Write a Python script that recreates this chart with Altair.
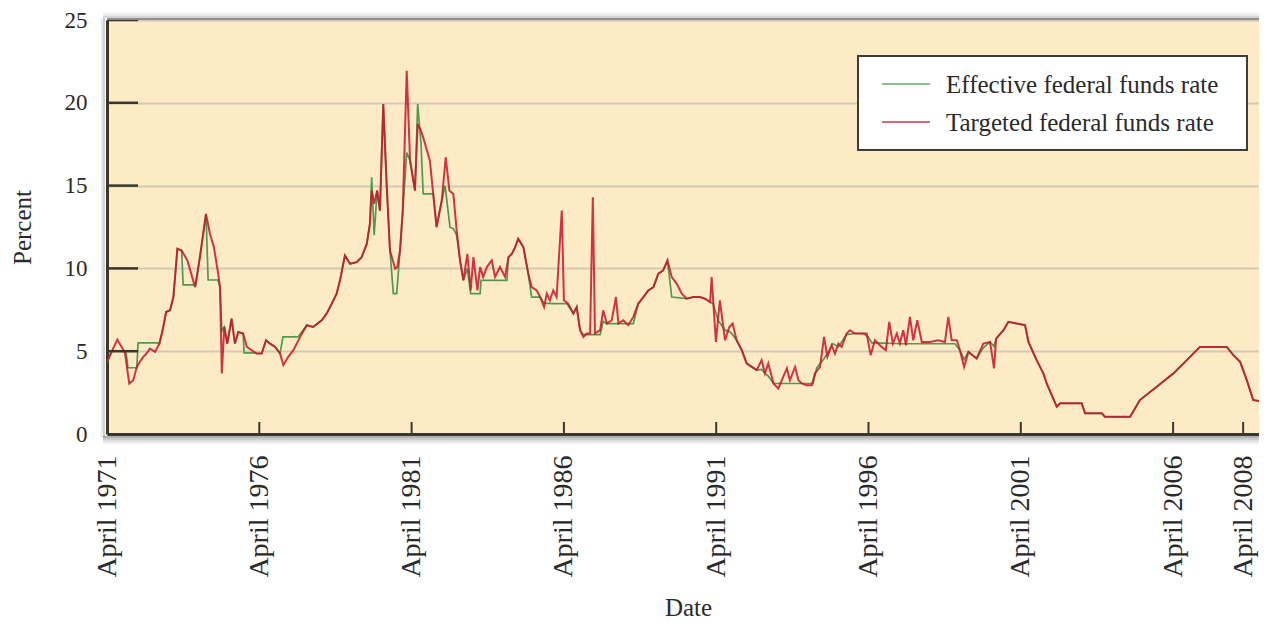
import altair as alt
import pandas as pd

# ---------------- data ----------------
tgt_dates = [1971.25, 1971.40, 1971.59, 1971.73, 1971.84, 1971.98, 1972.11, 1972.23, 1972.33, 1972.44,
             1972.55, 1972.66, 1972.83, 1972.97, 1973.05, 1973.12, 1973.19, 1973.32, 1973.43, 1973.56,
             1973.70, 1973.89, 1974.14, 1974.30, 1974.50, 1974.63, 1974.76, 1974.90, 1974.96, 1975.02,
             1975.10, 1975.20, 1975.34, 1975.45, 1975.56, 1975.72, 1975.84, 1976.00, 1976.16, 1976.33,
             1976.47, 1976.60, 1976.77, 1976.93, 1977.04, 1977.20, 1977.37, 1977.56, 1977.81, 1978.02,
             1978.30, 1978.46, 1978.63, 1978.79, 1978.90, 1979.06, 1979.23, 1979.45, 1979.61, 1979.78,
             1979.88, 1979.94, 1980.02, 1980.12, 1980.21, 1980.32, 1980.43, 1980.54, 1980.71, 1980.78,
             1980.87, 1980.96, 1981.09, 1981.20, 1981.36, 1981.45, 1981.56, 1981.63, 1981.85, 1982.07,
             1982.24, 1982.37, 1982.49, 1982.62, 1982.73, 1982.84, 1982.95, 1983.08, 1983.19, 1983.28,
             1983.41, 1983.50, 1983.60, 1983.72, 1983.88, 1983.99, 1984.15, 1984.32, 1984.43, 1984.54,
             1984.65, 1984.75, 1984.92, 1985.08, 1985.19, 1985.36, 1985.47, 1985.60, 1985.69, 1985.79,
             1985.90, 1986.01, 1986.18, 1986.25, 1986.39, 1986.56, 1986.67, 1986.78, 1986.89, 1987.00,
             1987.11, 1987.20, 1987.27, 1987.44, 1987.54, 1987.66, 1987.82, 1987.96, 1988.04, 1988.20,
             1988.36, 1988.53, 1988.69, 1988.86, 1989.02, 1989.19, 1989.35, 1989.51, 1989.65, 1989.79,
             1989.95, 1990.12, 1990.28, 1990.50, 1990.72, 1990.88, 1991.05, 1991.10, 1991.24, 1991.37,
             1991.54, 1991.68, 1991.79, 1991.92, 1992.09, 1992.25, 1992.42, 1992.58, 1992.74, 1992.85,
             1992.96, 1993.13, 1993.29, 1993.45, 1993.57, 1993.67, 1993.84, 1993.95, 1994.06, 1994.22,
             1994.39, 1994.49, 1994.66, 1994.79, 1994.90, 1995.04, 1995.15, 1995.26, 1995.37, 1995.53,
             1995.64, 1995.81, 1996.19, 1996.32, 1996.46, 1996.68, 1996.82, 1996.93, 1997.05, 1997.18,
             1997.28, 1997.39, 1997.48, 1997.61, 1997.72, 1997.85, 1998.00, 1998.27, 1998.54, 1998.76,
             1998.87, 1998.98, 1999.15, 1999.25, 1999.39, 1999.53, 1999.80, 2000.02, 2000.24, 2000.37,
             2000.44, 2000.68, 2000.84, 2001.12, 2001.39, 2001.50, 2001.77, 2001.99, 2002.10, 2002.43,
             2002.54, 2003.25, 2003.36, 2003.91, 2004.01, 2004.84, 2005.16, 2005.71, 2006.26, 2006.70,
             2007.13, 2008.01, 2008.23, 2008.45, 2008.67, 2008.88, 2009.21, 2009.33]
tgt_rates = [4.34, 4.96, 5.70, 5.26, 4.88, 3.05, 3.25, 4.05, 4.36, 4.66,
             4.86, 5.16, 4.96, 5.46, 6.07, 6.67, 7.37, 7.47, 8.27, 11.19,
             11.08, 10.48, 8.87, 10.68, 13.29, 12.09, 11.28, 9.68, 8.87, 3.66,
             6.46, 5.46, 6.97, 5.46, 6.16, 6.07, 5.26, 5.06, 4.86, 4.86,
             5.66, 5.46, 5.26, 4.86, 4.16, 4.66, 5.06, 5.76, 6.57, 6.46,
             6.87, 7.27, 7.87, 8.48, 9.28, 10.78, 10.28, 10.38, 10.68, 11.49,
             12.69, 14.70, 13.90, 14.70, 13.49, 19.92, 15.10, 11.08, 9.98, 10.08,
             11.08, 13.49, 21.93, 16.51, 14.70, 18.72, 18.31, 17.91, 16.51, 12.49,
             14.10, 16.70, 14.70, 14.50, 12.29, 10.48, 9.28, 10.88, 8.67, 10.68,
             8.67, 10.08, 9.48, 10.08, 10.48, 9.48, 10.08, 9.48, 10.68, 10.88,
             11.28, 11.79, 11.28, 9.68, 8.87, 8.67, 8.27, 7.67, 8.48, 8.07,
             8.67, 8.27, 13.49, 8.07, 7.87, 7.27, 7.67, 6.27, 5.86, 6.07,
             6.07, 14.30, 6.07, 6.27, 7.47, 6.67, 6.87, 8.27, 6.67, 6.87,
             6.57, 7.07, 7.87, 8.27, 8.67, 8.87, 9.68, 9.88, 10.48, 9.48,
             9.08, 8.48, 8.17, 8.27, 8.27, 8.17, 7.97, 9.48, 5.56, 8.07,
             5.66, 6.46, 6.67, 5.66, 5.06, 4.26, 4.05, 3.86, 4.46, 3.66,
             4.26, 3.05, 2.75, 3.45, 3.96, 3.25, 4.05, 3.25, 3.05, 2.95,
             2.95, 3.66, 4.05, 5.86, 4.66, 5.36, 4.86, 5.46, 5.26, 6.07,
             6.27, 6.07, 6.07, 4.76, 5.66, 5.26, 5.06, 6.77, 5.46, 6.07,
             5.46, 6.27, 5.36, 7.07, 5.66, 6.87, 5.56, 5.56, 5.66, 5.56,
             7.07, 5.66, 5.66, 5.06, 4.05, 4.96, 4.56, 5.46, 5.56, 3.96,
             5.76, 6.27, 6.77, 6.67, 6.57, 5.56, 4.46, 3.66, 3.05, 1.65,
             1.85, 1.85, 1.25, 1.25, 1.04, 1.04, 2.05, 2.85, 3.66, 4.46,
             5.26, 5.26, 4.76, 4.36, 3.25, 2.05, 1.95, 0.84]

eff_dates = [1971.25, 1971.41, 1971.87, 1971.94, 1972.23, 1972.27, 1972.89, 1972.97, 1973.05, 1973.12,
             1973.19, 1973.32, 1973.43, 1973.56, 1973.70, 1973.75, 1974.17, 1974.30, 1974.50, 1974.57,
             1974.89, 1974.96, 1975.02, 1975.10, 1975.20, 1975.34, 1975.45, 1975.56, 1975.72, 1975.75,
             1976.11, 1976.16, 1976.33, 1976.47, 1976.60, 1976.77, 1976.93, 1977.03, 1977.52, 1977.81,
             1978.02, 1978.30, 1978.46, 1978.63, 1978.79, 1978.90, 1979.06, 1979.23, 1979.45, 1979.61,
             1979.78, 1979.88, 1979.94, 1980.02, 1980.12, 1980.21, 1980.32, 1980.43, 1980.54, 1980.65,
             1980.76, 1980.87, 1980.96, 1981.09, 1981.20, 1981.36, 1981.45, 1981.56, 1981.63, 1981.96,
             1982.07, 1982.24, 1982.35, 1982.51, 1982.62, 1982.73, 1982.84, 1982.95, 1983.08, 1983.19,
             1983.50, 1983.53, 1984.38, 1984.43, 1984.54, 1984.65, 1984.75, 1984.92, 1985.08, 1985.19,
             1985.47, 1985.60, 1985.90, 1986.35, 1986.56, 1986.67, 1986.78, 1986.89, 1987.44, 1987.54,
             1987.66, 1988.53, 1988.69, 1988.86, 1989.02, 1989.19, 1989.35, 1989.51, 1989.65, 1989.79,
             1990.28, 1990.50, 1990.72, 1990.88, 1991.05, 1991.15, 1991.31, 1991.54, 1991.68, 1991.79,
             1991.92, 1992.09, 1992.25, 1992.42, 1992.58, 1992.74, 1992.85, 1992.96, 1993.13, 1994.43,
             1994.55, 1994.77, 1994.90, 1995.08, 1995.26, 1995.53, 1995.81, 1996.08, 1996.24, 1996.36,
             1996.46, 1997.38, 1999.09, 1999.25, 1999.39, 1999.53, 1999.80, 2000.02, 2000.24, 2000.37,
             2000.44, 2000.68, 2000.84, 2001.12, 2001.39, 2001.50, 2001.77, 2001.99, 2002.10, 2002.43,
             2002.54, 2003.25, 2003.36, 2003.91, 2004.01, 2004.84, 2005.16, 2005.71, 2006.26, 2006.70,
             2007.13, 2008.01, 2008.23, 2008.45, 2008.67, 2008.88, 2009.21, 2009.33]
eff_rates = [4.30, 5.00, 5.00, 4.00, 4.00, 5.50, 5.50, 5.46, 6.07, 6.67,
             7.37, 7.47, 8.27, 11.19, 11.08, 9.00, 9.00, 10.68, 13.29, 9.30,
             9.30, 8.87, 6.20, 6.46, 5.46, 6.97, 5.46, 6.16, 6.07, 4.90,
             4.90, 4.86, 4.86, 5.66, 5.46, 5.26, 4.86, 5.86, 5.86, 6.57,
             6.46, 6.87, 7.27, 7.87, 8.48, 9.28, 10.78, 10.28, 10.38, 10.68,
             11.49, 12.69, 15.50, 12.00, 14.70, 13.49, 19.92, 15.10, 11.08, 8.48,
             8.48, 11.08, 13.49, 17.00, 16.51, 14.70, 19.92, 17.50, 14.50, 14.50,
             12.49, 14.10, 15.00, 12.49, 12.40, 12.00, 10.48, 9.28, 10.00, 8.48,
             8.48, 9.28, 9.28, 10.68, 10.88, 11.28, 11.79, 11.28, 9.68, 8.27,
             8.27, 7.90, 7.87, 7.87, 7.27, 7.67, 6.27, 6.00, 6.00, 6.80,
             6.67, 6.67, 7.87, 8.27, 8.67, 8.87, 9.68, 9.88, 10.48, 8.27,
             8.17, 8.27, 8.27, 8.17, 7.97, 7.87, 6.87, 6.27, 6.20, 6.00,
             5.66, 5.06, 4.26, 4.05, 3.86, 3.90, 3.66, 3.50, 3.05, 3.05,
             4.00, 4.50, 4.86, 5.46, 5.26, 6.00, 6.07, 6.07, 5.86, 5.50,
             5.50, 5.45, 5.45, 5.06, 4.50, 4.96, 4.56, 5.20, 5.56, 5.30,
             5.76, 6.27, 6.77, 6.67, 6.57, 5.56, 4.46, 3.66, 3.05, 1.65,
             1.85, 1.85, 1.25, 1.25, 1.04, 1.04, 2.05, 2.85, 3.66, 4.46,
             5.26, 5.26, 4.76, 4.36, 3.25, 2.05, 1.95, 0.84]

tick_years = [1971.25, 1976.25, 1981.25, 1986.25, 1991.25, 1996.25, 2001.25, 2006.25, 2008.55]
y_ticks = [0, 5, 10, 15, 20, 25]
inner_y_ticks = [5, 10, 15, 20, 25]
legend_labels = ["Effective federal funds rate", "Targeted federal funds rate"]
series_colors = ["#4f9a4c", "#c8142a"]

# ---------------- layout / style ----------------
W, H = 1152, 414
X_DOMAIN = [1971.25, 2009.07]
FONT = "Liberation Serif"
TEXT = "#2a2a2a"
FRAME = "#39362b"
BG = "#fdebc6"

eff = pd.DataFrame({"date": eff_dates, "rate": eff_rates})
tgt = pd.DataFrame({"date": tgt_dates, "rate": tgt_rates})
xt = pd.DataFrame({"date": tick_years})
yt = pd.DataFrame({"rate": inner_y_ticks})
one = pd.DataFrame({"k": [0]})

x_scale = alt.Scale(domain=X_DOMAIN, nice=False, zero=False)
y_scale = alt.Scale(domain=[0, 25], nice=False)

x_axis = alt.Axis(values=tick_years, labelExpr="'April ' + floor(datum.value)",
                  labelAngle=270, labelAlign="right", labelBaseline="middle",
                  labelFont=FONT, labelFontSize=28, labelColor=TEXT, labelPadding=21,
                  labelFlush=False, labelOverlap=False, ticks=False, grid=False,
                  domainColor=FRAME, domainWidth=3,
                  title="Date", titleFont=FONT, titleFontSize=25, titleFontWeight="normal",
                  titleColor=TEXT, titleX=581, titleY=173, titleBaseline="middle", titleAlign="center")
y_axis = alt.Axis(values=y_ticks, labelFont=FONT, labelFontSize=23, labelColor=TEXT,
                  labelPadding=20, ticks=False, grid=True, gridColor="#d2c9b6", gridWidth=2,
                  domainColor=FRAME, domainWidth=3,
                  title="Percent", titleFont=FONT, titleFontSize=25, titleFontWeight="normal",
                  titleColor=TEXT, titleAngle=270, titleX=-85, titleY=207, titleBaseline="middle",
                  titleAlign="center")

eff_line = alt.Chart(eff).mark_line(color=series_colors[0], strokeWidth=1.7, clip=True).encode(
    x=alt.X("date:Q", scale=x_scale, axis=x_axis),
    y=alt.Y("rate:Q", scale=y_scale, axis=y_axis),
)
tgt_line = alt.Chart(tgt).mark_line(color=series_colors[1], strokeWidth=2, opacity=0.85, clip=True).encode(
    x=alt.X("date:Q", scale=x_scale),
    y=alt.Y("rate:Q", scale=y_scale),
)

x_inner_ticks = alt.Chart(xt).mark_rule(color=FRAME, strokeWidth=2).encode(
    x=alt.X("date:Q", scale=x_scale), y=alt.value(H - 12), y2=alt.value(H))
y_inner_ticks = alt.Chart(yt).mark_rule(color=FRAME, strokeWidth=2.5).encode(
    y=alt.Y("rate:Q", scale=y_scale), x=alt.value(0), x2=alt.value(31))

deco = []
# top border and soft shadow around the plot frame
deco.append(alt.Chart(one).mark_rule(color="#8e8e8e", strokeWidth=2).encode(
    x=alt.value(0), x2=alt.value(W), y=alt.value(-1)))
for off, op in [(3, 0.30), (5, 0.16), (7, 0.07)]:
    deco.append(alt.Chart(one).mark_rule(color="#777777", strokeWidth=2, opacity=op).encode(
        x=alt.value(-4), x2=alt.value(W), y=alt.value(-off)))
for off, op in [(3, 0.45), (5, 0.30), (7, 0.18), (9, 0.09)]:
    deco.append(alt.Chart(one).mark_rule(color="#555555", strokeWidth=2, opacity=op).encode(
        x=alt.value(-4), x2=alt.value(W), y=alt.value(H + off)))
for off, op in [(3, 0.30), (5, 0.15)]:
    deco.append(alt.Chart(one).mark_rule(color="#666666", strokeWidth=2, opacity=op).encode(
        x=alt.value(-off), y=alt.value(-2), y2=alt.value(H + 3)))

# legend box
LX0, LX1, LY0, LY1 = 751, 1140, 36, 130
legend_box = alt.Chart(one).mark_rect(fill="white", stroke="#3c3c3c", strokeWidth=2).encode(
    x=alt.value(LX0), x2=alt.value(LX1), y=alt.value(LY0), y2=alt.value(LY1))
legend_items = []
for i, (lab, col) in enumerate(zip(legend_labels, series_colors)):
    yy = 64 + 38 * i
    legend_items.append(alt.Chart(one).mark_rule(color=col, strokeWidth=2, opacity=0.65).encode(
        x=alt.value(775), x2=alt.value(823), y=alt.value(yy)))
    legend_items.append(alt.Chart(one).mark_text(align="left", baseline="middle", font=FONT,
                                                 fontSize=25, color=TEXT, text=lab).encode(
        x=alt.value(839), y=alt.value(yy + 1)))

chart = alt.layer(eff_line, tgt_line, x_inner_ticks, y_inner_ticks, *deco, legend_box, *legend_items).properties(
    width=W, height=H,
    padding={"left": 99, "top": 12, "right": 0, "bottom": 186},
    autosize=alt.AutoSizeParams(type="none"),
).configure_view(fill=BG, stroke="transparent")

chart.save("out.html", embed_options={"renderer": "svg", "actions": False})
